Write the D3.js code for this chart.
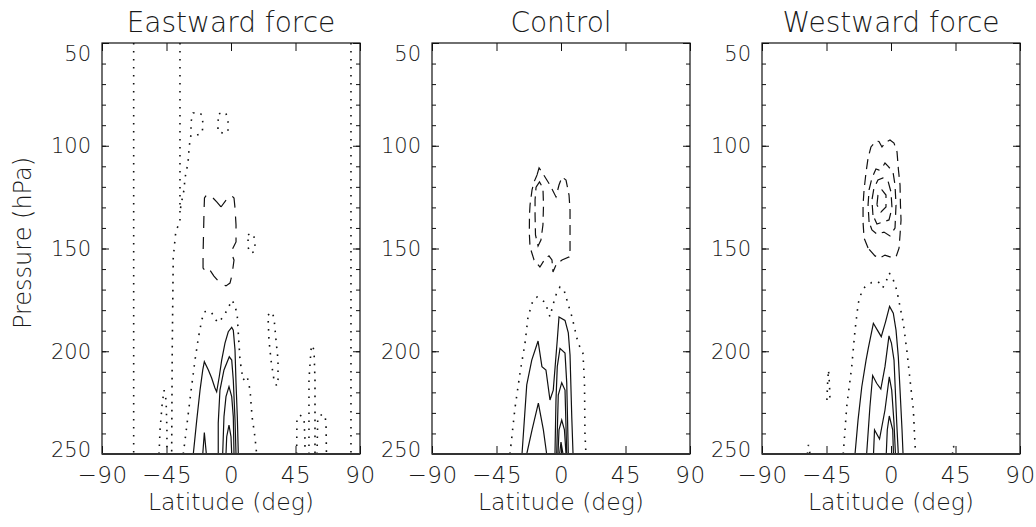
<!DOCTYPE html>
<html>
<head>
<meta charset="utf-8">
<script src="https://cdn.jsdelivr.net/npm/d3@7"></script>
<style>
  body { margin: 0; background: #fff; }
  svg text { font-family: "DejaVu Sans", sans-serif; font-weight: 200; fill: #1a1a1a; }
</style>
</head>
<body>
<svg id="chart" width="1036" height="527"></svg>
<script>
// panel titles and axis ticks
var titles = ["Eastward force", "Control", "Westward force"];
var latTicks = [-90, -45, 0, 45, 90];
var presTicks = [50, 100, 150, 200, 250];

// contour lines, each a list of [latitude, pressure] points
// Eastward force
var eastDotted = [
  [[-67.9,50],[-67.9,250]],
  [[-35.6,50],[-35.6,137.6],[-38.4,141],[-40.3,154.6],[-41.0,199.4],[-41.4,250]],
  [[-35.2,130.3],[-34.2,126.4],[-32.8,121.5],[-32.1,115.7],[-30.0,108.4],[-29.3,102.1],[-28.6,97.2],[-27.9,94.8],[-27.9,88.4],[-26.5,84.1],[-23.0,83.6],[-20.2,85.0],[-19.5,89.9],[-20.2,93.8],[-23.7,94.8],[-27.2,94.3]],
  [[-8.4,84.5],[-5.6,83.6],[-3.5,84.1],[-2.1,88.4],[-2.1,93.3],[-5.6,93.8],[-9.1,93.3],[-9.1,88.4],[-8.4,84.5]],
  [[11.9,143.4],[14.0,142.5],[16.0,143.9],[16.7,148.3],[16.0,151.7],[13.3,152.2],[11.9,149.3],[11.9,143.4]],
  [[-33.3,250],[-30.9,236.7],[-28.1,220.5],[-25.1,204.3],[-22.8,193.6],[-20.4,184.8],[-18.6,180.8],[-16.0,180.4],[-13.5,181.2],[-11.2,184.3],[-8.9,186.1],[-5.4,183.2],[-1.9,179.0],[0.5,175.1],[2.8,177.5],[4.4,183.2],[5.1,191.1],[6.3,204.3],[8.4,214.0],[11.2,212.0],[13.3,218.9],[14.7,231.8],[16.7,241.7],[17.9,250]],
  [[-50.2,250],[-49.5,238.3],[-48.1,226.2],[-46.7,218.9],[-45.3,223.7],[-44.7,238.3],[-44.7,250]],
  [[25.8,182.4],[28.6,180.9],[30.0,183.8],[31.4,194.5],[32.8,204.3],[32.8,214.0],[31.9,216.9],[30.0,214.0],[27.9,204.3],[26.5,194.5],[25.8,182.4]],
  [[45.8,250],[46.0,233.5],[48.1,231.0],[50.9,232.5],[51.6,243.2],[51.6,250]],
  [[54.4,250],[54.4,214.0],[55.8,199.4],[56.5,197.0],[57.9,199.4],[58.6,214.0],[58.6,250]],
  [[60.0,250],[60.5,233.5],[62.1,231.0],[65.6,231.0],[66.3,235.9],[66.6,250]],
  [[83.7,50],[83.7,250]]
];
var eastDashed = [
  [[-7.0,129.8],[-9.8,127.4],[-13.3,124.9],[-16.7,123.5],[-18.5,125.4],[-18.8,131.3],[-19.1,141.0],[-19.5,153.2],[-19.5,159.5],[-16.7,161.9],[-14.7,160.5],[-11.9,163.4],[-7.7,166.8],[-3.5,168.2],[-0.7,166.8],[0.7,162.9],[2.1,155.6],[0.0,151.7],[3.5,146.8],[3.5,138.6],[2.8,130.3],[2.1,125.4],[0.0,124.0],[-2.8,125.9],[-7.0,129.8]]
];
var eastSolid = [
  [[-26.3,250],[-23.9,233.5],[-21.6,218.9],[-19.7,209.1],[-18.6,205.1],[-15.8,209.1],[-13.5,213.0],[-11.2,217.9],[-10.0,219.7],[-8.2,212.4],[-6.5,204.3],[-4.2,196.0],[-1.9,190.5],[0.5,188.4],[1.6,189.7],[2.8,199.4],[3.5,215.4],[4.4,231.8],[5.1,250]],
  [[-8.9,250],[-8.9,234.9],[-7.7,218.9],[-4.9,209.1],[-1.2,202.7],[0.5,204.3],[1.6,214.0],[2.8,233.5],[3.5,250]],
  [[-5.8,250],[-4.9,231.8],[-3.5,222.1],[-1.4,217.2],[0.5,222.1],[1.6,231.8],[2.1,250]],
  [[-3.5,250],[-3.0,241.6],[-1.4,235.9],[0.0,241.6],[0.5,250]],
  [[-19.7,250],[-18.6,239.6],[-17.2,250]]
];

// Control
var controlDotted = [
  [[-35.6,250],[-32.1,227.6],[-28.6,210.6],[-25.1,196.0],[-23.0,183.3],[-19.5,175.1],[-16.7,173.6],[-14.0,175.1],[-11.2,176.0],[-7.7,183.2],[-5.6,177.5],[-3.5,172.6],[-0.7,168.7],[2.1,170.2],[4.9,177.0],[7.7,183.3],[9.8,189.7],[11.9,196.0],[15.3,200.9],[16.4,215.4],[16.7,239.8],[17.4,250]]
];
var controlDashed = [
  [[-16.7,114.2],[-15.3,110.8],[-13.3,112.8],[-7.7,119.1],[-3.5,124.9],[-1.4,119.1],[0.7,115.2],[3.5,116.7],[5.6,124.0],[6.3,131.3],[6.3,142.5],[6.3,150.7],[5.8,154.1],[0.7,155.6],[-3.5,158.0],[-5.6,161.4],[-6.3,155.6],[-8.4,153.6],[-11.2,155.1],[-14.7,159.0],[-18.8,155.6],[-21.6,149.3],[-22.1,142.5],[-22.0,133.7],[-21.6,128.8],[-20.2,121.5],[-18.8,117.6],[-16.7,114.2]],
  [[-17.4,120.1],[-15.0,117.6],[-12.6,120.6],[-12.2,128.8],[-12.6,138.6],[-14.0,145.9],[-16.0,148.8],[-17.8,143.4],[-18.1,133.7],[-18.1,126.4],[-17.4,120.1]]
];
var controlSolid = [
  [[-27.2,250],[-23.9,216.4],[-20.4,204.3],[-16.0,195.0],[-13.3,207.5],[-10.5,209.1],[-7.7,223.7],[-5.4,218.9],[-2.6,194.5],[-1.4,183.3],[2.8,185.0],[5.1,191.1],[6.3,201.8],[7.5,231.8],[8.4,250]],
  [[-23.9,250],[-20.2,238.3],[-15.8,225.2],[-12.3,238.3],[-10.0,250]],
  [[-4.2,250],[-3.5,223.7],[-2.6,207.5],[-0.7,198.6],[2.8,200.9],[4.0,215.4],[5.1,250]],
  [[-3.0,250],[-1.9,221.3],[0.5,215.3],[2.8,218.9],[4.0,250]],
  [[-2.1,250],[-1.4,238.3],[0.5,233.5],[2.4,238.3],[3.5,250]],
  [[-1.0,250],[0.0,244.2],[1.4,250]]
];

// Westward force
var westDotted = [
  [[-33.3,250],[-30.9,227.0],[-27.4,207.5],[-25.1,189.7],[-22.8,176.5],[-20.4,171.0],[-18.1,168.6],[-13.5,166.6],[-8.9,166.2],[-5.8,169.2],[-3.0,165.3],[-1.2,161.9],[1.6,165.3],[4.0,170.2],[6.3,178.3],[8.6,186.3],[11.0,199.4],[13.3,214.0],[15.6,228.6],[16.7,244.6],[17.2,250]],
  [[-44.7,223.7],[-44.3,216.4],[-43.6,209.1],[-42.9,216.4],[-42.6,223.7],[-44.7,223.7]],
  [[-58.3,250],[-57.6,245.6],[-56.5,250]],
  [[42.9,250],[43.6,246.1],[45.0,250]]
];
var westDashed = [
  [[-16.0,149.8],[-18.8,144.9],[-19.5,137.1],[-19.5,128.8],[-18.8,121.5],[-17.4,112.8],[-16.0,106.0],[-14.0,100.6],[-10.5,97.7],[-8.4,97.9],[-6.3,100.6],[-3.5,98.2],[-0.7,97.2],[2.1,98.7],[4.2,103.0],[5.2,111.8],[6.3,119.1],[6.6,128.8],[7.0,136.1],[6.3,143.4],[5.6,149.8],[3.5,154.1],[-0.7,154.1],[-4.2,153.2],[-7.7,154.6],[-11.2,153.6],[-16.0,149.8]],
  [[-15.3,137.1],[-16.0,128.8],[-15.3,121.5],[-13.3,115.7],[-10.5,111.3],[-8.4,111.8],[-6.3,110.8],[-4.2,108.4],[-2.1,109.9],[1.4,112.8],[2.8,119.1],[3.5,128.8],[2.8,140.0],[-0.7,143.9],[-4.9,142.0],[-9.8,143.0],[-13.3,141.0],[-15.3,137.1]],
  [[-12.6,133.7],[-13.3,126.4],[-11.9,120.6],[-9.1,116.7],[-5.6,115.7],[-2.1,117.1],[0.0,122.5],[0.7,130.3],[-1.4,136.1],[-5.6,137.1],[-9.8,138.1],[-12.6,133.7]],
  [[-9.8,128.8],[-9.1,124.0],[-6.3,121.5],[-3.5,124.0],[-3.5,129.8],[-7.0,132.2],[-9.8,128.8]]
];
var westSolid = [
  [[-25.1,250],[-23.0,233.5],[-20.4,217.4],[-17.4,204.3],[-15.8,198.4],[-12.3,186.4],[-9.5,189.7],[-6.8,192.9],[-3.8,185.7],[-1.0,178.2],[1.6,181.5],[3.5,189.7],[5.1,202.7],[6.3,218.9],[7.7,238.3],[8.4,250]],
  [[-17.0,250],[-14.7,227.0],[-12.8,211.8],[-10.0,215.6],[-7.1,218.4],[-4.2,207.5],[-1.4,192.5],[0.3,196.0],[2.1,204.3],[4.0,234.9],[5.1,250]],
  [[-12.2,250],[-11.5,238.3],[-8.0,242.7],[-4.2,228.6],[-1.2,212.5],[0.5,218.9],[2.1,234.9],[3.1,250]],
  [[-3.3,250],[-2.6,238.3],[-1.2,231.5],[1.2,238.3],[1.7,250]]
];

var dottedSets = [eastDotted, controlDotted, westDotted];
var dashedSets = [eastDashed, controlDashed, westDashed];
var solidSets = [eastSolid, controlSolid, westSolid];

// layout
var panelLeft = [102, 432, 762],
    plotW = 258,
    plotTop = 43,
    plotBottom = 454;

var svg = d3.select("#chart");
var defs = svg.append("defs");

function fmtLat(d){ return d < 0 ? "\u2212" + Math.abs(d) : String(d); }

titles.forEach(function(title, i){
  var x0 = panelLeft[i];
  var xScale = d3.scaleLinear().domain([-90, 90]).range([x0, x0 + plotW]);
  var yScale = d3.scaleLinear().domain([50, 250]).range([plotTop, plotBottom]);

  defs.append("clipPath").attr("id", "clip" + i)
      .append("rect")
      .attr("x", x0).attr("y", plotTop)
      .attr("width", plotW).attr("height", plotBottom - plotTop);

  var g = svg.append("g");
  var plot = g.append("g").attr("clip-path", "url(#clip" + i + ")");

  var line = d3.line()
      .x(function(d){ return xScale(d[0]); })
      .y(function(d){ return yScale(d[1]); });

  //dotted contours
  plot.selectAll(".dot-line").data(dottedSets[i]).enter().append("path")
      .attr("class", "dot-line")
      .attr("d", line)
      .attr("fill", "none")
      .attr("stroke", "#111")
      .attr("stroke-width", 1.6)
      .attr("stroke-dasharray", "1.6,6.4");

  //dashed contours
  plot.selectAll(".dash-line").data(dashedSets[i]).enter().append("path")
      .attr("class", "dash-line")
      .attr("d", line)
      .attr("fill", "none")
      .attr("stroke", "#111")
      .attr("stroke-width", 1.2)
      .attr("stroke-dasharray", i === 0 ? "12,9" : "10,6");

  //solid contours
  plot.selectAll(".solid-line").data(solidSets[i]).enter().append("path")
      .attr("class", "solid-line")
      .attr("d", line)
      .attr("fill", "none")
      .attr("stroke", "#111")
      .attr("stroke-width", 1.2);

  // axes, ticks pointing inward
  var bottom = g.append("g")
      .attr("transform", "translate(0," + plotBottom + ")")
      .call(d3.axisBottom(xScale).tickValues(latTicks).tickFormat(fmtLat)
            .tickSizeInner(-8).tickSizeOuter(0).tickPadding(13));
  var top = g.append("g")
      .attr("transform", "translate(0," + plotTop + ")")
      .call(d3.axisTop(xScale).tickValues(latTicks).tickFormat("")
            .tickSizeInner(-8).tickSizeOuter(0));
  var left = g.append("g")
      .attr("transform", "translate(" + x0 + ",0)")
      .call(d3.axisLeft(yScale).tickValues(presTicks)
            .tickSizeInner(-7).tickSizeOuter(0).tickPadding(11));
  var leftMinor = g.append("g")
      .attr("transform", "translate(" + x0 + ",0)")
      .call(d3.axisLeft(yScale).ticks(20).tickFormat("")
            .tickSizeInner(-4).tickSizeOuter(0));
  var right = g.append("g")
      .attr("transform", "translate(" + (x0 + plotW) + ",0)")
      .call(d3.axisRight(yScale).tickValues(presTicks).tickFormat("")
            .tickSizeInner(-7).tickSizeOuter(0));
  var rightMinor = g.append("g")
      .attr("transform", "translate(" + (x0 + plotW) + ",0)")
      .call(d3.axisRight(yScale).ticks(20).tickFormat("")
            .tickSizeInner(-4).tickSizeOuter(0));

  [bottom, top, left, leftMinor, right, rightMinor].forEach(function(a){
      a.select(".domain").remove();
      a.selectAll("line").attr("stroke", "#111").attr("stroke-width", 1);
      a.attr("font-family", null).attr("font-size", null);
  });
  bottom.selectAll("text").style("font-size", "23px").style("letter-spacing", "0.5px");
  left.selectAll("text")
      .style("font-size", "21px")
      .attr("dy", function(d){ return d === 50 ? "17px" : (d === 250 ? "2.7px" : "0.33em"); });

  // frame
  g.append("rect")
      .attr("x", x0).attr("y", plotTop)
      .attr("width", plotW).attr("height", plotBottom - plotTop)
      .attr("fill", "none").attr("stroke", "#111").attr("stroke-width", 1.2);
  g.append("line")
      .attr("x1", x0).attr("x2", x0 + plotW)
      .attr("y1", plotBottom).attr("y2", plotBottom)
      .attr("stroke", "#333").attr("stroke-width", 2);

  // titles
  g.append("text")
      .attr("x", x0 + plotW / 2).attr("y", 32)
      .attr("text-anchor", "middle")
      .style("font-size", "28px")
      .text(title);
  g.append("text")
      .attr("x", x0 + plotW / 2).attr("y", 510)
      .attr("text-anchor", "middle")
      .style("font-size", "23.5px")
      .text("Latitude (deg)");
});

svg.append("text")
    .attr("transform", "translate(31,243) rotate(-90)")
    .attr("text-anchor", "middle")
    .style("font-size", "24px")
    .text("Pressure (hPa)");
</script>
</body>
</html>
